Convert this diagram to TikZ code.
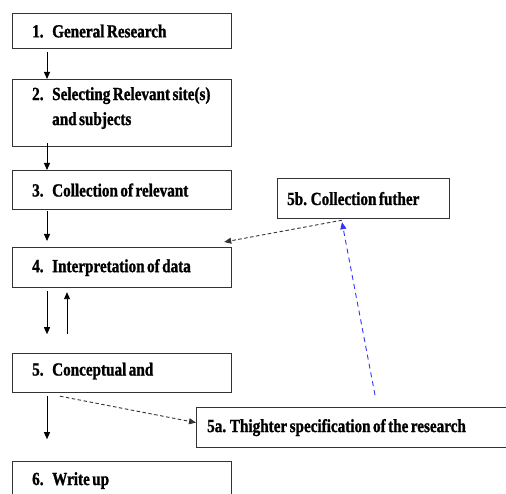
\documentclass[tikz,border=0pt]{standalone}
\usepackage{fontspec}
\setmainfont{Liberation Serif}[FakeStretch=0.82,WordSpace=0.65,FakeBold=1.2]
\usetikzlibrary{calc,arrows.meta}
\begin{document}
\begin{tikzpicture}[x=1pt,y=-1pt,
  box/.style={draw=black!80,line width=1.2pt,rectangle,inner sep=0pt},
  mainbox/.style={box,anchor=north west,minimum width=219pt},
  txt/.style={anchor=west,align=left,inner sep=0pt,font=\fontsize{18.5}{25}\selectfont\bfseries},
  arr/.style={-{Triangle[length=7pt,width=6pt]},line width=0.9pt,black},
  darr/.style={-{Triangle[length=7pt,width=6pt]},line width=0.9pt,black!80,dash pattern=on 3.5pt off 2.5pt},
  barr/.style={-{Triangle[length=7pt,width=6pt]},line width=0.9pt,blue!80,dash pattern=on 5pt off 4pt}]
\useasboundingbox[fill=white] (0,0) rectangle (506,494);
\node[mainbox,minimum height=35pt] (b1) at (12,13) {};
\node[mainbox,minimum height=67pt] (b2) at (12,79) {};
\node[mainbox,minimum height=39pt] (b3) at (12,170) {};
\node[mainbox,minimum height=40pt] (b4) at (12,247) {};
\node[mainbox,minimum height=39pt] (b5) at (12,353) {};
\node[mainbox,minimum height=40pt] (b6) at (12,461) {};
\node[box,anchor=north west,minimum width=172pt,minimum height=40pt] (b5b) at (277,178) {};
\node[box,anchor=north west,minimum width=320pt,minimum height=40pt] (b5a) at (196,407) {};
\node[txt] (t1) at ($(b1.west)+(20,0)$) {\makebox[20pt][l]{1.}General Research};
\node[txt] (t2) at ($(b2.west)+(20,-5)$) {\makebox[20pt][l]{2.}Selecting Relevant site(s)\\\hspace*{20pt}and subjects};
\node[txt] (t3) at ($(b3.west)+(20,0)$) {\makebox[20pt][l]{3.}Collection of relevant};
\node[txt] (t4) at ($(b4.west)+(20,0)$) {\makebox[20pt][l]{4.}Interpretation of data};
\node[txt] (t5) at ($(b5.west)+(20,-2)$) {\makebox[20pt][l]{5.}Conceptual and};
\node[txt] (t6) at ($(b6.west)+(20,-1)$) {\makebox[20pt][l]{6.}Write up};
\node[txt] (t5b) at ($(b5b.west)+(10,0)$) {5b. Collection futher};
\node[txt] (t5a) at ($(b5a.west)+(11,0)$) {5a. Thighter specification of the research};
\draw[arr] ($(b1.south west)+(35,3)$) -- ($(b2.north west)+(35,0)$);
\draw[arr] ($(b2.south west)+(35,-4)$) -- ($(b3.north west)+(35,0)$);
\draw[arr] ($(b3.south west)+(35,1)$) -- ($(b4.north west)+(35,-6)$);
\draw[arr] ($(b4.south west)+(35,3)$) -- ($(b4.south west)+(35,46)$);
\draw[arr] ($(b4.south west)+(55,46)$) -- ($(b4.south west)+(55,4)$);
\draw[arr] ($(b5.south west)+(35,3)$) -- ($(b5.south west)+(35,46)$);
\draw[darr] ($(b5.south west)+(48,3)$) -- ($(b5a.west)+(0,-5)$);
\draw[darr] ($(b5b.south west)+(65,1)$) -- ($(b4.north east)+(-8,-5)$);
\draw[barr] ($(b5a.north west)+(179,-12)$) -- ($(b5b.south west)+(65,3)$);
\end{tikzpicture}
\end{document}
